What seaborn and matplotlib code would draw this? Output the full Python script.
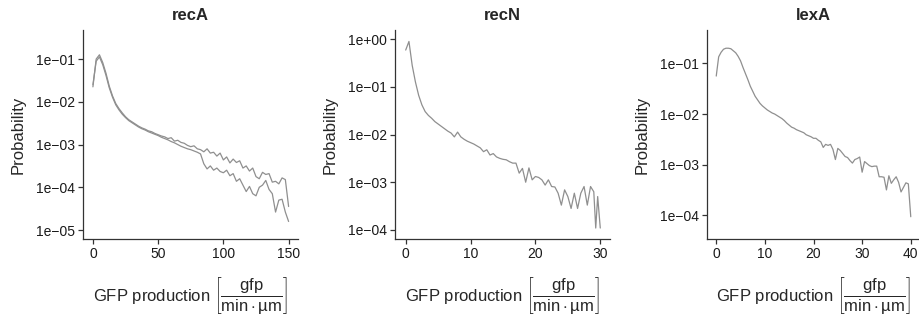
import numpy as np
import pandas as pd
import matplotlib
matplotlib.use("Agg")
import matplotlib.pyplot as plt
import seaborn as sns

# ---------------- data (log10 probability) ----------------
recA_x = np.arange(0, 150.01, 2.5)
recA_run1_log = [-1.65, -1.00, -0.90, -1.08, -1.33, -1.63, -1.86, -2.04, -2.16, -2.26,
                 -2.35, -2.42, -2.47, -2.52, -2.57, -2.61, -2.64, -2.68, -2.70, -2.74,
                 -2.77, -2.80, -2.82, -2.86, -2.84, -2.92, -2.90, -2.95, -2.97, -3.02,
                 -3.05, -3.03, -3.10, -3.12, -3.17, -3.10, -3.20, -3.18, -3.27, -3.20,
                 -3.36, -3.29, -3.43, -3.34, -3.42, -3.38, -3.55, -3.50, -3.62, -3.55,
                 -3.75, -3.80, -3.65, -3.70, -3.68, -3.88, -3.86, -3.92, -3.78, -3.82,
                 -4.45]
recA_run2_log = [-1.60, -1.05, -0.95, -1.13, -1.38, -1.67, -1.89, -2.07, -2.19, -2.29,
                 -2.37, -2.44, -2.49, -2.54, -2.59, -2.63, -2.66, -2.70, -2.73, -2.76,
                 -2.79, -2.83, -2.86, -2.89, -2.93, -2.96, -3.00, -3.04, -3.07, -3.10,
                 -3.12, -3.15, -3.18, -3.22, -3.45, -3.57, -3.50, -3.60, -3.55, -3.63,
                 -3.66, -3.60, -3.73, -3.68, -3.86, -3.80, -3.95, -4.10, -3.98, -4.15,
                 -4.20, -4.00, -3.95, -3.84, -4.05, -4.15, -4.58, -4.30, -4.28, -4.58,
                 -4.80]

recN_x = list(np.arange(0, 29.01, 0.5)) + [29.3, 29.6, 30.0]
recN_log = [-0.23, -0.05, -0.55, -0.90, -1.18, -1.38, -1.52, -1.60, -1.66, -1.73,
            -1.78, -1.83, -1.88, -1.93, -1.97, -2.05, -1.95, -2.05, -2.10, -2.14,
            -2.17, -2.20, -2.24, -2.28, -2.36, -2.32, -2.43, -2.40, -2.47, -2.50,
            -2.52, -2.53, -2.57, -2.60, -2.60, -2.81, -2.71, -3.00, -2.70, -2.95,
            -2.88, -2.90, -2.95, -3.06, -2.95, -3.09, -3.10, -3.23, -3.48, -3.16,
            -3.30, -3.55, -3.23, -3.55, -3.23, -3.09, -3.48, -3.09, -3.20, -3.96,
            -3.30, -3.96]

lexA_x = np.arange(0, 40.01, 0.5)
lexA_log = [-1.25, -0.87, -0.78, -0.72, -0.70, -0.70, -0.71, -0.75, -0.79, -0.86,
            -0.95, -1.08, -1.20, -1.32, -1.45, -1.55, -1.65, -1.72, -1.79, -1.84,
            -1.88, -1.92, -1.95, -1.98, -2.00, -2.03, -2.06, -2.09, -2.13, -2.18,
            -2.22, -2.26, -2.28, -2.31, -2.33, -2.35, -2.37, -2.41, -2.43, -2.45,
            -2.48, -2.48, -2.52, -2.55, -2.66, -2.60, -2.62, -2.60, -2.70, -2.90,
            -2.68, -2.72, -2.78, -2.84, -2.86, -2.92, -2.97, -2.90, -2.88, -2.85,
            -3.15, -2.94, -2.98, -3.02, -3.04, -3.03, -3.03, -3.24, -3.24, -3.25,
            -3.50, -3.22, -3.37, -3.30, -3.24, -3.35, -3.54, -3.45, -3.36, -3.38,
            -4.03]

titles = ["recA", "recN", "lexA"]
ytick_exponents = [[-1, -2, -3, -4, -5], [0, -1, -2, -3, -4], [-1, -2, -3, -4]]
xtick_values = [[0, 50, 100, 150], [0, 10, 20, 30], [0, 10, 20, 30, 40]]

# ---------------- style ----------------
sns.set_style("ticks")
plt.rcParams["font.family"] = ["Liberation Sans", "DejaVu Sans"]
plt.rcParams["mathtext.fontset"] = "custom"
plt.rcParams["mathtext.rm"] = "Liberation Sans"
plt.rcParams["mathtext.it"] = "Liberation Sans:italic"
plt.rcParams["mathtext.bf"] = "Liberation Sans:bold"

def long_frame(x, logs, name):
    return pd.DataFrame({"x": np.asarray(x, float),
                         "p": 10.0 ** np.asarray(logs, float),
                         "series": name})

frames = [
    pd.concat([long_frame(recA_x, recA_run1_log, "a"),
               long_frame(recA_x, recA_run2_log, "b")]),
    long_frame(recN_x, recN_log, "a"),
    long_frame(lexA_x, lexA_log, "a"),
]

W, H = 919, 324
fig = plt.figure(figsize=(W / 100, H / 100), dpi=100)
axes_px = [(83, 298), (395, 610), (707, 920)]
top_px, bottom_px = 30, 239
xlims = [(-7.6, 157.2), (-1.65, 31.5), (-1.9, 41.9)]
ylims = [(10 ** -5.21, 10 ** -0.32), (10 ** -4.19, 10 ** 0.19), (10 ** -4.47, 10 ** -0.34)]

xlabel = r"GFP production $\left[\dfrac{\mathrm{gfp}}{\mathrm{min}\cdot\mathrm{µm}}\right]$"

def fmt(e):
    s = "+" if e >= 0 else "\u2212"
    return f"1e{s}{abs(e):02d}"

line_col = "#8f8f8f"
ax_h = bottom_px - top_px
for i, df in enumerate(frames):
    l, r = axes_px[i]
    ax = fig.add_axes([l / W, (H - bottom_px) / H, (r - l) / W, ax_h / H])
    n = df["series"].nunique()
    sns.lineplot(data=df, x="x", y="p", hue="series", palette=[line_col] * n,
                 estimator=None, legend=False, linewidth=0.9, ax=ax)
    ax.set_yscale("log")
    ax.set_xlim(*xlims[i])
    ax.set_ylim(*ylims[i])
    ax.set_yticks([10.0 ** e for e in ytick_exponents[i]])
    ax.set_yticklabels([fmt(e) for e in ytick_exponents[i]])
    ax.yaxis.set_minor_locator(matplotlib.ticker.NullLocator())
    ax.set_xticks(xtick_values[i])
    ax.set_xticklabels([str(v) for v in xtick_values[i]])
    ax.tick_params(axis="both", which="major", length=3.5, width=0.9,
                   color="#333333", labelsize=10, labelcolor="#1a1a1a", pad=2.5, direction="out")
    for side in ["top", "right"]:
        ax.spines[side].set_visible(False)
    for side in ["left", "bottom"]:
        ax.spines[side].set_color("#333333")
        ax.spines[side].set_linewidth(0.9)
    ax.set_title(titles[i], fontsize=12, fontweight="bold", pad=7)
    ax.set_ylabel("Probability", fontsize=12, labelpad=7)
    ax.set_xlabel(xlabel, fontsize=12)
    ax.xaxis.label.set_verticalalignment("center")
    ax.xaxis.set_label_coords(0.5, (bottom_px - 296) / ax_h)

fig.savefig("out.png", dpi=100)
